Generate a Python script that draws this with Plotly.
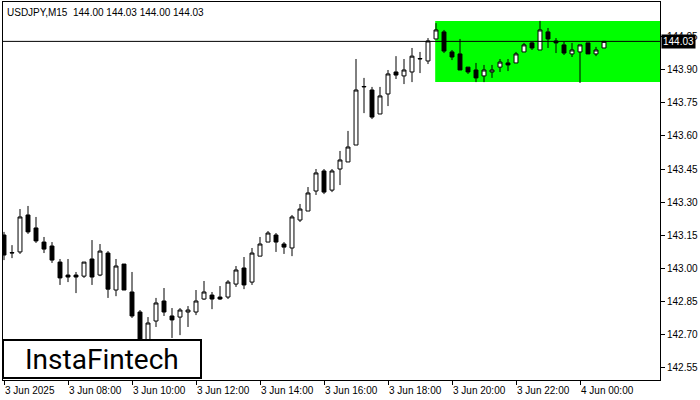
import plotly.graph_objects as go

opens = [143.150,143.068,143.073,143.241,143.182,143.118,143.100,143.027,142.968,142.968,
         142.963,143.041,142.968,143.068,142.900,143.018,142.891,142.800,142.673,142.759,
         142.850,142.782,142.777,142.800,142.800,142.859,142.877,142.868,142.868,142.927,
         143.000,142.936,143.054,143.118,143.150,143.109,143.091,143.218,143.259,143.350,
         143.441,143.354,143.450,143.482,143.559,143.823,143.809,143.700,143.791,143.891,
         143.873,143.891,143.950,143.941,144.041,144.073,143.982,143.973,143.913,143.900,
         143.873,143.891,143.913,143.932,143.932,143.982,144.023,143.991,144.073,144.032,
         144.014,143.973,143.982,144.023,143.973,144.000]
highs = [143.164,143.104,143.268,143.282,143.232,143.141,143.118,143.041,143.041,142.982,
         143.027,143.127,143.109,143.077,143.041,143.018,142.982,142.809,142.777,142.864,
         142.909,142.818,142.818,142.827,142.900,142.941,142.891,142.918,142.945,143.009,
         143.050,143.091,143.141,143.168,143.159,143.118,143.241,143.291,143.368,143.450,
         143.450,143.450,143.532,143.623,143.950,143.864,143.823,143.823,143.900,143.963,
         143.950,144.000,143.982,144.045,144.113,144.082,143.991,144.041,143.913,143.932,
         143.923,143.923,143.950,143.950,143.982,144.023,144.027,144.123,144.091,144.045,
         144.027,144.023,144.014,144.023,144.005,144.032]
lows = [143.036,143.045,143.064,143.155,143.114,143.068,143.023,142.923,142.936,142.886,
        142.955,142.923,142.963,142.864,142.872,142.900,142.773,142.627,142.650,142.732,
        142.782,142.682,142.695,142.732,142.786,142.855,142.813,142.855,142.859,142.914,
        142.904,142.923,143.054,143.118,143.073,143.064,143.054,143.209,143.259,143.332,
        143.336,143.345,143.377,143.482,143.559,143.704,143.677,143.700,143.736,143.859,
        143.836,143.845,143.886,143.927,144.041,143.977,143.945,143.900,143.882,143.845,
        143.845,143.864,143.891,143.895,143.932,143.982,143.991,143.991,144.000,143.977,
        143.968,143.959,143.841,143.973,143.963,144.000]
closes = [143.059,143.070,143.232,143.164,143.123,143.086,143.036,142.955,142.959,142.959,
          143.027,142.959,143.077,142.904,143.009,142.900,142.782,142.650,142.750,142.841,
          142.800,142.764,142.809,142.809,142.850,142.891,142.859,142.859,142.936,142.991,
          142.923,143.068,143.109,143.159,143.118,143.095,143.232,143.268,143.341,143.432,
          143.345,143.441,143.491,143.550,143.809,143.825,143.686,143.782,143.882,143.877,
          143.900,143.963,143.952,144.032,144.082,143.986,143.959,143.900,143.891,143.864,
          143.900,143.900,143.936,143.923,143.973,144.014,144.000,144.082,144.041,144.023,
          143.977,143.991,144.014,143.973,143.991,144.030]
x_idx = list(range(len(opens)))
time_labels = ["3 Jun 2025","3 Jun 08:00","3 Jun 10:00","3 Jun 12:00","3 Jun 14:00",
               "3 Jun 16:00","3 Jun 18:00","3 Jun 20:00","3 Jun 22:00","4 Jun 00:00"]
label_idx = [0,8,16,24,32,40,48,56,64,72]
y_ticks = [142.55,142.70,142.85,143.00,143.15,143.30,143.45,143.60,143.75,143.90,144.05]
last_price = 144.03
zone_top, zone_bottom, zone_start = 144.123, 143.845, 53.9

W, H = 700, 400
L, R, T, B = 3, 40, 2, 20
pw = W - L - R
ph = H - T - B

fig = go.Figure(go.Candlestick(
    x=x_idx, open=opens, high=highs, low=lows, close=closes,
    increasing=dict(fillcolor="white", line=dict(color="black", width=1)),
    decreasing=dict(fillcolor="black", line=dict(color="black", width=1)),
    whiskerwidth=0, showlegend=False, hoverinfo="skip"))

x0 = -1/8
x1 = x0 + pw/8
fig.add_shape(type="rect", xref="x", yref="y", x0=zone_start, x1=x1, y0=zone_bottom, y1=zone_top,
              fillcolor="#00ff00", line=dict(width=0), layer="below")
fig.add_shape(type="line", xref="paper", yref="y", x0=0, x1=1, y0=last_price, y1=last_price,
              line=dict(color="black", width=1))

ann = []
for i, t in zip(label_idx, time_labels):
    ann.append(dict(x=i, y=0, xref="x", yref="paper", text=t, showarrow=False,
                    xanchor="left", yanchor="top", yshift=-3, xshift=-1,
                    font=dict(size=10, color="black")))
ann.append(dict(x=0, y=1, xref="paper", yref="paper", xshift=2, yshift=-3,
                text="USDJPY,M15  144.00 144.03 144.00 144.03", showarrow=False,
                xanchor="left", yanchor="top", font=dict(size=10, color="black")))
ann.append(dict(x=1, y=last_price, xref="paper", yref="y", text="144.03", showarrow=False,
                xanchor="left", yanchor="middle", bgcolor="black", xshift=1, borderpad=1,
                font=dict(size=10, color="white")))
ann.append(dict(x=(102-L)/pw, y=(H-B-359)/ph, xref="paper", yref="paper", text="InstaFintech",
                showarrow=False, xanchor="center", yanchor="middle",
                font=dict(size=28, color="black", family="Roboto")))
fig.add_shape(type="rect", xref="paper", yref="paper", x0=0, x1=(201-L)/pw,
              y0=(H-B-378)/ph, y1=(H-B-340)/ph, fillcolor="white",
              line=dict(color="black", width=2))

fig.update_layout(
    width=W, height=H, margin=dict(l=L, r=R, t=T, b=B, autoexpand=False),
    paper_bgcolor="white", plot_bgcolor="white",
    font=dict(family="Liberation Sans, Arial", size=10, color="black"),
    annotations=ann,
    xaxis=dict(range=[x0, x1], showgrid=False, zeroline=False, showticklabels=False,
               rangeslider=dict(visible=False), showline=True, linecolor="black", mirror=True,
               ticks="outside", tickvals=label_idx, ticklen=4, tickcolor="black", automargin=False),
    yaxis=dict(range=[142.491, 144.209], side="right", tickvals=y_ticks,
               ticktext=[f"{v:.2f}" for v in y_ticks], showgrid=False, zeroline=False,
               showline=True, linecolor="black", mirror=True, ticks="outside", ticklen=4,
               tickcolor="black", automargin=False),
)
fig.write_html("out.html", config={"displayModeBar": False},
               post_script="document.body.style.margin='0';document.body.style.overflow='hidden';")
